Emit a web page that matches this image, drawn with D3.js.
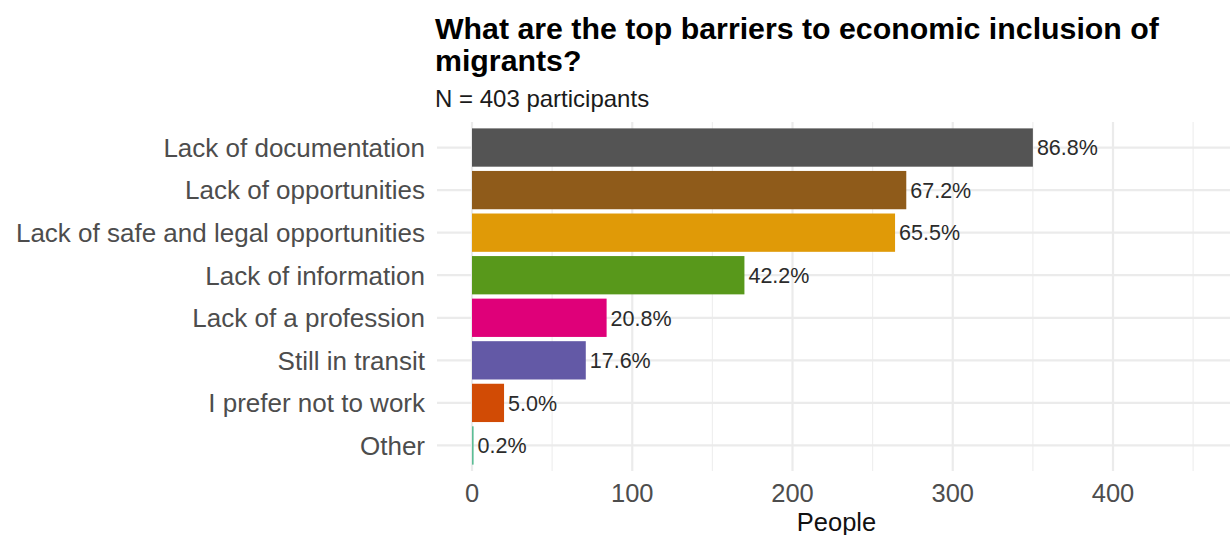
<!DOCTYPE html>
<html>
<head>
<meta charset="utf-8">
<script src="https://cdn.jsdelivr.net/npm/d3@7"></script>
<style>
  html, body { margin: 0; padding: 0; background: #ffffff; }
  svg { display: block; }
  text { font-family: "Liberation Sans", Arial, Helvetica, sans-serif; }
</style>
</head>
<body>
<svg id="chart" width="1230" height="535"></svg>
<script>
// ---- data ----
const categories = [
  "Lack of documentation",
  "Lack of opportunities",
  "Lack of safe and legal opportunities",
  "Lack of information",
  "Lack of a profession",
  "Still in transit",
  "I prefer not to work",
  "Other"
];
const people = [350, 271, 264, 170, 84, 71, 20, 1];
const percentLabels = ["86.8%", "67.2%", "65.5%", "42.2%", "20.8%", "17.6%", "5.0%", "0.2%"];
const barColors = ["#545454", "#8F5B1A", "#E09A07", "#58981B", "#DF0079", "#6359A6", "#D14B05", "#5CBD95"];
const xMajorTicks = [0, 100, 200, 300, 400];
const xMinorTicks = [50, 150, 250, 350, 450];
const titleLines = ["What are the top barriers to economic inclusion of", "migrants?"];
const subtitle = "N = 403 participants";
const xTitle = "People";

// ---- layout ----
const svg = d3.select("#chart");
const panel = { left: 437, right: 1236, top: 122, bottom: 471 };

const x = d3.scaleLinear().domain([0, 400]).range([472, 1113]);
const y = d3.scaleBand()
  .domain(categories)
  .range([panel.top, panel.bottom])
  .paddingInner(0.1)
  .paddingOuter(0.15);

const grid = svg.append("g");
// minor vertical gridlines
grid.selectAll("line.minor").data(xMinorTicks).enter().append("line")
  .attr("x1", d => x(d)).attr("x2", d => x(d))
  .attr("y1", panel.top).attr("y2", panel.bottom)
  .attr("stroke", "#EFEFEF").attr("stroke-width", 1.2);
// major vertical gridlines
grid.selectAll("line.majorx").data(xMajorTicks).enter().append("line")
  .attr("x1", d => x(d)).attr("x2", d => x(d))
  .attr("y1", panel.top).attr("y2", panel.bottom)
  .attr("stroke", "#EBEBEB").attr("stroke-width", 2.2);
// major horizontal gridlines
grid.selectAll("line.majory").data(categories).enter().append("line")
  .attr("x1", panel.left).attr("x2", panel.right)
  .attr("y1", d => y(d) + y.bandwidth() / 2).attr("y2", d => y(d) + y.bandwidth() / 2)
  .attr("stroke", "#EBEBEB").attr("stroke-width", 2.2);

// bars
const data = categories.map((c, i) => ({ c, v: people[i], lab: percentLabels[i], col: barColors[i] }));
svg.append("g").selectAll("rect").data(data).enter().append("rect")
  .attr("x", x(0))
  .attr("y", d => y(d.c))
  .attr("width", d => Math.max(x(d.v) - x(0), 0))
  .attr("height", y.bandwidth())
  .attr("fill", d => d.col);

// value labels
svg.append("g").selectAll("text").data(data).enter().append("text")
  .attr("x", d => x(d.v) + 4)
  .attr("y", d => y(d.c) + y.bandwidth() / 2)
  .attr("dy", "0.36em")
  .attr("font-size", 21.5)
  .attr("fill", "#2b2b2b")
  .text(d => d.lab);

// y axis labels
svg.append("g").selectAll("text").data(categories).enter().append("text")
  .attr("x", 425)
  .attr("y", d => y(d) + y.bandwidth() / 2)
  .attr("dy", "0.36em")
  .attr("text-anchor", "end")
  .attr("font-size", 26)
  .attr("fill", "#4D4D4D")
  .text(d => d);

// x axis tick labels
svg.append("g").selectAll("text").data(xMajorTicks).enter().append("text")
  .attr("x", d => x(d))
  .attr("y", 502)
  .attr("text-anchor", "middle")
  .attr("font-size", 25.5)
  .attr("fill", "#4D4D4D")
  .text(d => d);

// x axis title
svg.append("text")
  .attr("x", (panel.left + panel.right) / 2)
  .attr("y", 531)
  .attr("text-anchor", "middle")
  .attr("font-size", 25.5)
  .attr("fill", "#111")
  .text(xTitle);

// title
svg.append("g").selectAll("text").data(titleLines).enter().append("text")
  .attr("x", 435)
  .attr("y", (d, i) => 39 + i * 32)
  .attr("font-size", 30.3)
  .attr("font-weight", "bold")
  .attr("fill", "#000")
  .text(d => d);

svg.append("text")
  .attr("x", 435)
  .attr("y", 107)
  .attr("font-size", 24)
  .attr("fill", "#1a1a1a")
  .text(subtitle);
</script>
</body>
</html>
